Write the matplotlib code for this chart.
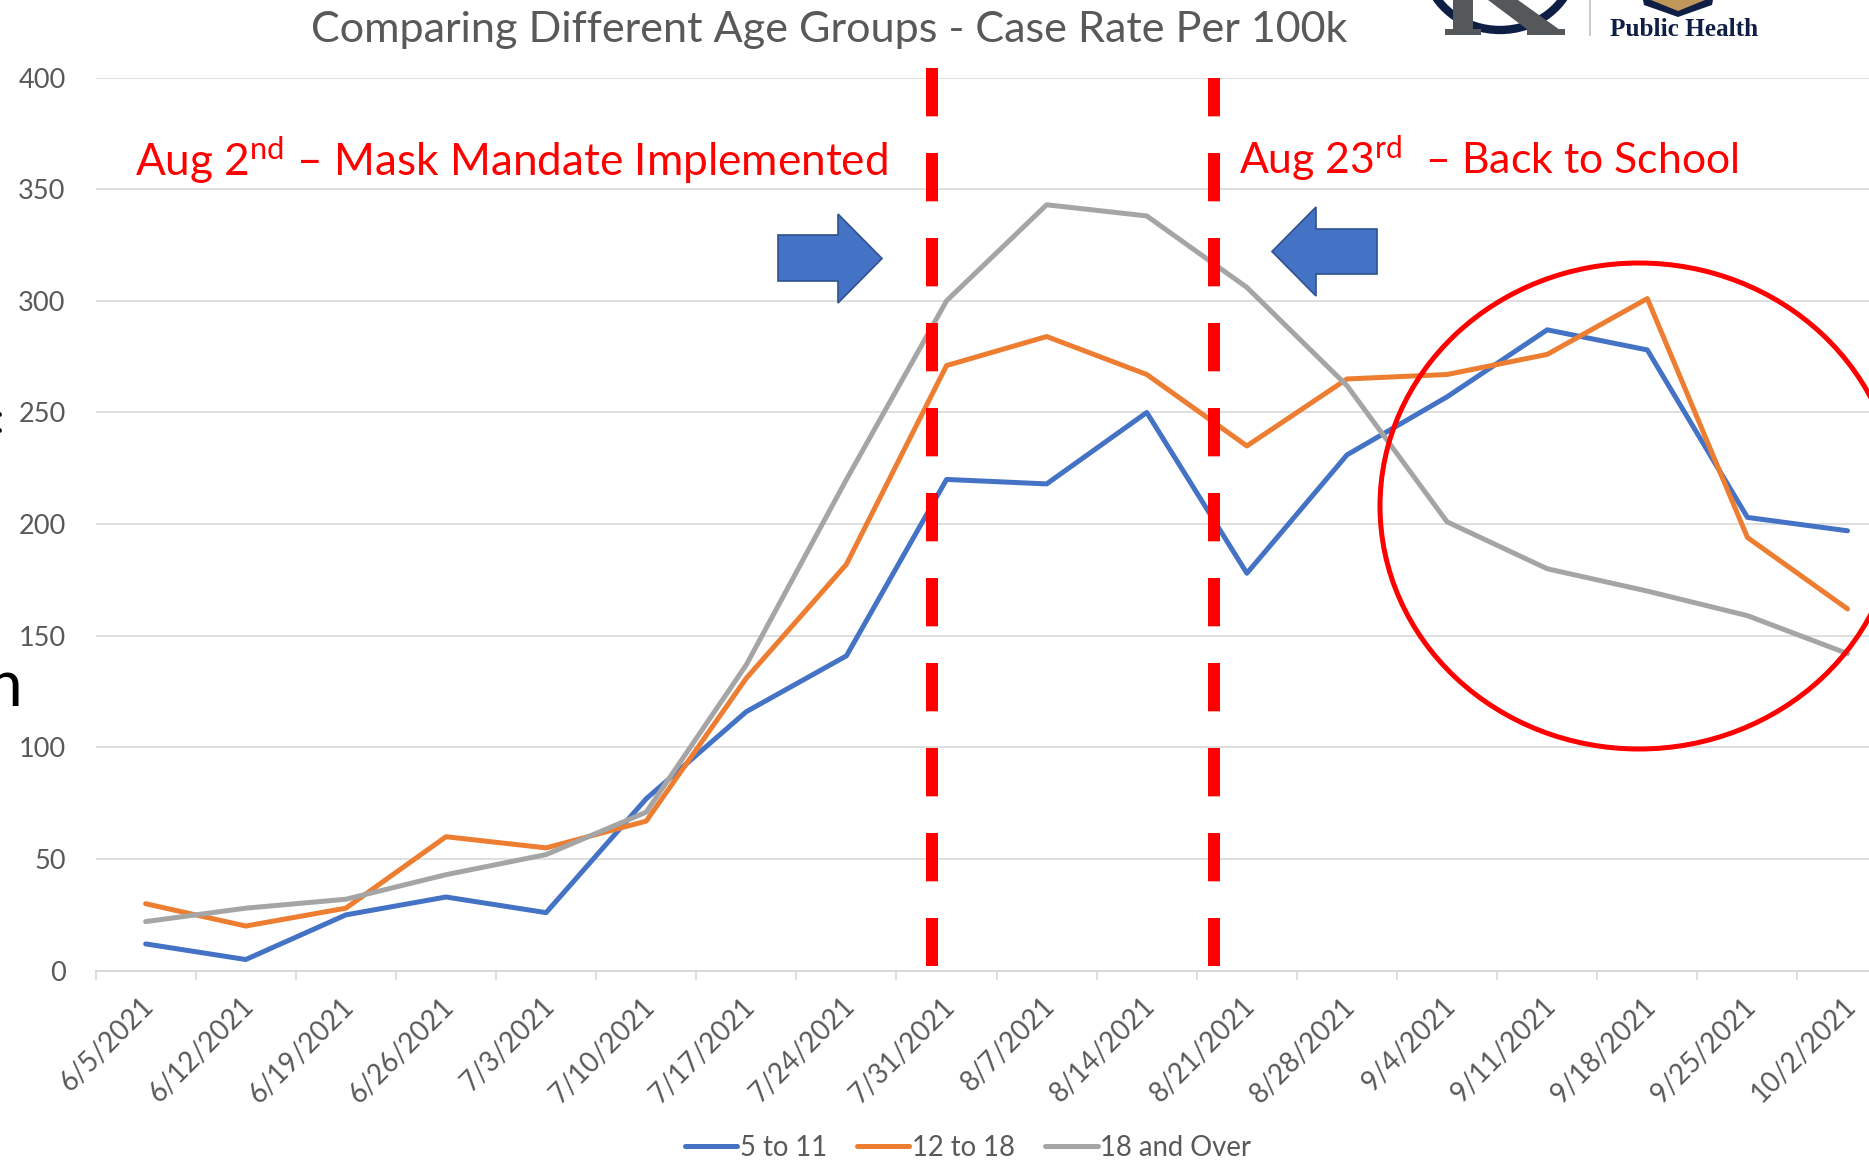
import matplotlib
matplotlib.use("Agg")
import matplotlib.pyplot as plt
from matplotlib.patches import Polygon, Ellipse, Arc
from matplotlib.lines import Line2D
import matplotlib.transforms as mtransforms

plt.rcParams['font.family'] = ['Lato', 'DejaVu Sans']
plt.rcParams['mathtext.fontset'] = 'custom'
plt.rcParams['mathtext.rm'] = 'Lato'
plt.rcParams['mathtext.it'] = 'Lato:italic'
plt.rcParams['mathtext.bf'] = 'Lato:bold'
plt.rcParams['lines.scale_dashes'] = False

# ---------------- data ----------------
dates = ["6/5/2021", "6/12/2021", "6/19/2021", "6/26/2021", "7/3/2021", "7/10/2021",
         "7/17/2021", "7/24/2021", "7/31/2021", "8/7/2021", "8/14/2021", "8/21/2021",
         "8/28/2021", "9/4/2021", "9/11/2021", "9/18/2021", "9/25/2021", "10/2/2021"]
age_5_11 = [12, 5, 25, 33, 26, 77, 116, 141, 220, 218, 250, 178, 231, 257, 287, 278, 203, 197]
age_12_18 = [30, 20, 28, 60, 55, 67, 131, 182, 271, 284, 267, 235, 265, 267, 276, 301, 194, 162]
age_18_over = [22, 28, 32, 43, 52, 71, 137, 220, 300, 343, 338, 306, 262, 201, 180, 170, 159, 142]
series_names = ["5 to 11", "12 to 18", "18 and Over"]
y_ticks = [0, 50, 100, 150, 200, 250, 300, 350, 400]

title = "Comparing Different Age Groups - Case Rate Per 100k"
note_mask = r"Aug 2$^{\mathrm{nd}}$ – Mask Mandate Implemented"
note_school = r"Aug 23$^{\mathrm{rd}}$  – Back to School"

# ---------------- style ----------------
W, H = 1869, 1167
BLUE, ORANGE, GRAY = "#4472C4", "#ED7D31", "#A5A5A5"
TXT = "#595959"
GRID = "#D9D9D9"
RED = "#FF0000"

fig = plt.figure(figsize=(W / 100, H / 100), dpi=100)
fig.patch.set_facecolor("white")


def P(x, y):
    return (x / W, 1 - y / H)


ax_left, ax_right, ax_top, ax_bot = 95.6, 1897.6, 77.5, 970.7
ax = fig.add_axes([ax_left / W, 1 - ax_bot / H, (ax_right - ax_left) / W, (ax_bot - ax_top) / H])
ax.set_xlim(-0.5, len(dates) - 0.5)
ax.set_ylim(0, 400)

xs = list(range(len(dates)))
for vals, col, name in zip([age_5_11, age_12_18, age_18_over], [BLUE, ORANGE, GRAY], series_names):
    ax.plot(xs, vals, color=col, lw=3.6, solid_capstyle='round', solid_joinstyle='round',
            label=name, zorder=3, clip_on=False)

ax.set_yticks(y_ticks)
ax.yaxis.grid(True, color=GRID, lw=1.2)
ax.set_axisbelow(True)
for s in ["left", "right", "top"]:
    ax.spines[s].set_visible(False)
ax.spines["bottom"].set_color(GRID)
ax.spines["bottom"].set_linewidth(1.5)
ax.tick_params(axis='y', length=0, pad=21.6, labelsize=19.5, labelcolor=TXT)

ax.set_xticks(xs)
ax.set_xticklabels(dates, rotation=45, ha='right', va='top', rotation_mode='anchor')
ax.set_xticks([i - 0.5 for i in range(len(dates) + 1)], minor=True)
ax.tick_params(axis='x', which='major', length=0, pad=16, labelsize=19.8, labelcolor=TXT)
ax.tick_params(axis='x', which='minor', length=6.5, width=1.2, color=GRID)
off = mtransforms.ScaledTranslation(-5 / 100, 0, fig.dpi_scale_trans)
for lab in ax.get_xticklabels():
    lab.set_transform(lab.get_transform() + off)

# red dashed vertical lines
line_x = [7.853, 10.673]
line_offsets = [0, 7.2]
line_tops = [404.3, 399.8]
for lx, lo, lt in zip(line_x, line_offsets, line_tops):
    ax.plot([lx, lx], [lt, 2.1], color=RED, lw=8.64, linestyle=(lo, (34.8, 26.4)),
            solid_capstyle='butt', dash_capstyle='butt', zorder=4, clip_on=False)

# red ellipse
ell = Ellipse(P(1639, 506), 518 / W, 486 / H, fill=False, edgecolor=RED, lw=3.6,
              transform=fig.transFigure, zorder=5)
fig.patches.append(ell)


# blue arrows
def poly(pts, **kw):
    p = Polygon([P(x, y) for x, y in pts], closed=True, transform=fig.transFigure, **kw)
    fig.patches.append(p)


right_arrow = [(778, 235), (838, 235), (838, 214), (882, 258.5), (838, 303), (838, 281), (778, 281)]
left_arrow = [(1377, 229), (1316, 229), (1316, 207), (1272, 251.5), (1316, 296), (1316, 274), (1377, 274)]
poly(right_arrow, facecolor=BLUE, edgecolor="#2F528F", lw=1.2, zorder=6)
poly(left_arrow, facecolor=BLUE, edgecolor="#2F528F", lw=1.2, zorder=6)

# texts
renderer = fig.canvas.get_renderer()


def fit(t, target):
    w = t.get_window_extent(renderer).width
    t.set_fontsize(t.get_fontsize() * target / w)


t_title = fig.text(*P(829.5, 41.7), title, ha='center', va='baseline', color=TXT, fontsize=34)
fit(t_title, 1039)
t_mask = fig.text(*P(134.7, 176.4), note_mask, ha='left', va='baseline', color=RED, fontsize=30)
fit(t_mask, 753)
t_school = fig.text(*P(1238.5, 174), note_school, ha='left', va='baseline', color=RED, fontsize=30)
fit(t_school, 500)

# legend
handles = [Line2D([0], [0], color=c, lw=3.6, solid_capstyle='round') for c in [BLUE, ORANGE, GRAY]]
fig.legend(handles, series_names, loc='center', bbox_to_anchor=P(968, 1148), ncol=3,
           frameon=False, fontsize=19.8, labelcolor=TXT, handlelength=1.9,
           handletextpad=0.1, columnspacing=1.1, borderpad=0, borderaxespad=0)

# cropped fragments at left edge (as in the source slide)
fig.text(*P(22, 706), "n", ha='right', va='baseline', color='black', fontsize=46)
fig.text(*P(4, 433), ":", ha='right', va='baseline', color='black', fontsize=30)

# partial logo at top right
NAVY, GOLD, LGRAY = "#0F1E45", "#C0965A", "#54585A"
arc = Arc(P(1500, -38), 150 / W, 136 / H, theta1=195, theta2=345, color=NAVY, lw=6,
          transform=fig.transFigure)
fig.patches.append(arc)
poly([(1453, 0), (1473, 0), (1473, 30), (1453, 30)], facecolor=LGRAY, edgecolor='none')
poly([(1445, 29), (1481, 29), (1481, 35), (1445, 35)], facecolor=LGRAY, edgecolor='none')
poly([(1488, 0), (1518, 0), (1560, 30), (1528, 30)], facecolor=LGRAY, edgecolor='none')
poly([(1527, 29), (1565, 29), (1565, 35), (1527, 35)], facecolor=LGRAY, edgecolor='none')
fig.lines.append(Line2D([1590 / W, 1590 / W], [1, 1 - 35 / H], color="#BFBFBF", lw=1.2,
                        transform=fig.transFigure))
poly([(1643, 0), (1713, 0), (1712, 5), (1678, 17), (1644, 5)], facecolor=NAVY, edgecolor='none')
poly([(1651, 0), (1705, 0), (1678, 11)], facecolor=GOLD, edgecolor='none')
t_logo = fig.text(*P(1610, 36), "Public Health", ha='left', va='baseline', color=NAVY,
                  fontsize=14, fontweight='bold', family=['Liberation Serif', 'DejaVu Serif'])
fit(t_logo, 149)

fig.savefig("out.png", dpi=100)
